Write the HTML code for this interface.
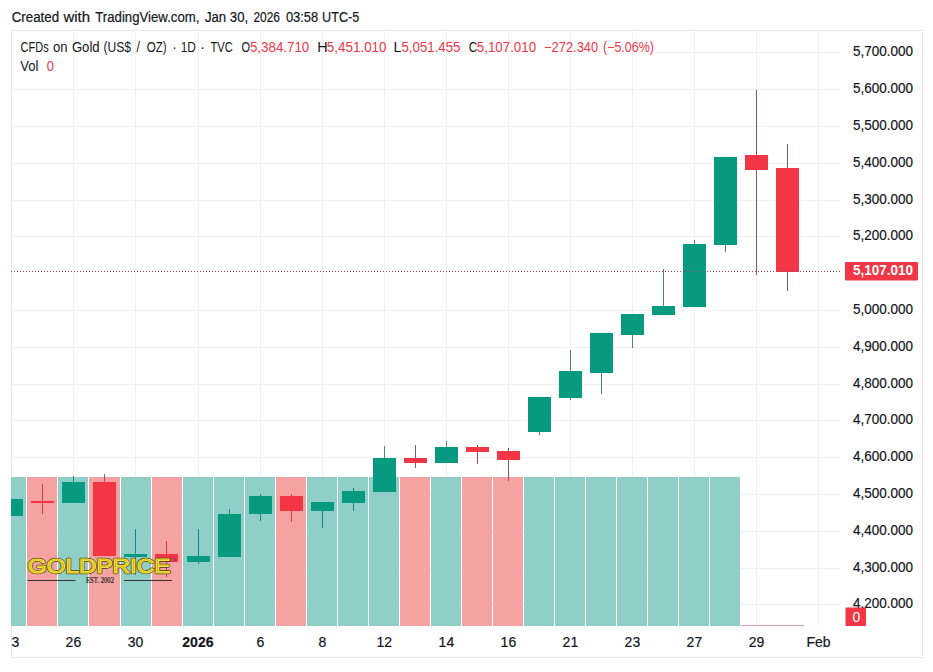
<!DOCTYPE html>
<html><head><meta charset="utf-8"><style>
html,body{margin:0;padding:0;background:#fff;width:933px;height:672px;overflow:hidden}
svg{display:block;font-family:"Liberation Sans",sans-serif}
.t text{stroke:#131722;stroke-width:0.2px}
.t text[fill="#F23645"]{stroke:none}
</style></head><body>
<svg width="933" height="672" viewBox="0 0 933 672">
<rect x="0" y="0" width="933" height="672" fill="#fff"/>
<g font-size="14"><text x="11.70" y="21.7" fill="#131722" textLength="47.42" lengthAdjust="spacingAndGlyphs" stroke="#131722" stroke-width="0.2">Created</text><text x="63.50" y="21.7" fill="#131722" textLength="26.46" lengthAdjust="spacingAndGlyphs" stroke="#131722" stroke-width="0.2">with</text><text x="95.30" y="21.7" fill="#131722" textLength="104.07" lengthAdjust="spacingAndGlyphs" stroke="#131722" stroke-width="0.2">TradingView.com,</text><text x="204.90" y="21.7" fill="#131722" textLength="21.14" lengthAdjust="spacingAndGlyphs" stroke="#131722" stroke-width="0.2">Jan</text><text x="229.80" y="21.7" fill="#131722" textLength="18.34" lengthAdjust="spacingAndGlyphs" stroke="#131722" stroke-width="0.2">30,</text><text x="253.40" y="21.7" fill="#131722" textLength="26.63" lengthAdjust="spacingAndGlyphs" stroke="#131722" stroke-width="0.2">2026</text><text x="285.90" y="21.7" fill="#131722" textLength="32.34" lengthAdjust="spacingAndGlyphs" stroke="#131722" stroke-width="0.2">03:58</text><text x="322.10" y="21.7" fill="#131722" textLength="37.11" lengthAdjust="spacingAndGlyphs" stroke="#131722" stroke-width="0.2">UTC-5</text></g>
<rect x="11.5" y="30.5" width="911" height="627" fill="none" stroke="#E6E7E9" stroke-width="1"/>
<defs><clipPath id="pc"><rect x="11" y="30" width="829" height="596"/></clipPath><clipPath id="tc"><rect x="11" y="626" width="829" height="31"/></clipPath></defs>
<g clip-path="url(#pc)"><rect x="656" y="52" width="184" height="1" fill="#F1F1F3"/><rect x="11" y="89" width="829" height="1" fill="#F1F1F3"/><rect x="11" y="126" width="829" height="1" fill="#F1F1F3"/><rect x="11" y="163" width="829" height="1" fill="#F1F1F3"/><rect x="11" y="200" width="829" height="1" fill="#F1F1F3"/><rect x="11" y="236" width="829" height="1" fill="#F1F1F3"/><rect x="11" y="310" width="829" height="1" fill="#F1F1F3"/><rect x="11" y="347" width="829" height="1" fill="#F1F1F3"/><rect x="11" y="384" width="829" height="1" fill="#F1F1F3"/><rect x="11" y="420" width="829" height="1" fill="#F1F1F3"/><rect x="11" y="457" width="829" height="1" fill="#F1F1F3"/><rect x="11" y="494" width="829" height="1" fill="#F1F1F3"/><rect x="11" y="531" width="829" height="1" fill="#F1F1F3"/><rect x="11" y="568" width="829" height="1" fill="#F1F1F3"/><rect x="11" y="604" width="829" height="1" fill="#F1F1F3"/><rect x="73" y="30" width="1" height="596" fill="#F1F1F3"/><rect x="135" y="30" width="1" height="596" fill="#F1F1F3"/><rect x="198" y="30" width="1" height="596" fill="#F1F1F3"/><rect x="260" y="30" width="1" height="596" fill="#F1F1F3"/><rect x="322" y="30" width="1" height="596" fill="#F1F1F3"/><rect x="384" y="30" width="1" height="596" fill="#F1F1F3"/><rect x="446" y="30" width="1" height="596" fill="#F1F1F3"/><rect x="508" y="30" width="1" height="596" fill="#F1F1F3"/><rect x="570" y="30" width="1" height="596" fill="#F1F1F3"/><rect x="632" y="30" width="1" height="596" fill="#F1F1F3"/><rect x="694" y="30" width="1" height="596" fill="#F1F1F3"/><rect x="756" y="30" width="1" height="596" fill="#F1F1F3"/><rect x="818" y="30" width="1" height="596" fill="#F1F1F3"/><rect x="0" y="477" width="26" height="149" fill="#8FCFC8"/><rect x="27" y="477" width="30" height="149" fill="#F5A3A2"/><rect x="58" y="477" width="30" height="149" fill="#8FCFC8"/><rect x="89" y="477" width="31" height="149" fill="#F5A3A2"/><rect x="121" y="477" width="30" height="149" fill="#8FCFC8"/><rect x="152" y="477" width="30" height="149" fill="#F5A3A2"/><rect x="183" y="477" width="30" height="149" fill="#8FCFC8"/><rect x="214" y="477" width="30" height="149" fill="#8FCFC8"/><rect x="245" y="477" width="30" height="149" fill="#8FCFC8"/><rect x="276" y="477" width="30" height="149" fill="#F5A3A2"/><rect x="307" y="477" width="30" height="149" fill="#8FCFC8"/><rect x="338" y="477" width="30" height="149" fill="#8FCFC8"/><rect x="369" y="477" width="30" height="149" fill="#8FCFC8"/><rect x="400" y="477" width="30" height="149" fill="#F5A3A2"/><rect x="431" y="477" width="30" height="149" fill="#8FCFC8"/><rect x="462" y="477" width="30" height="149" fill="#F5A3A2"/><rect x="493" y="477" width="30" height="149" fill="#F5A3A2"/><rect x="524" y="477" width="30" height="149" fill="#8FCFC8"/><rect x="555" y="477" width="30" height="149" fill="#8FCFC8"/><rect x="586" y="477" width="30" height="149" fill="#8FCFC8"/><rect x="617" y="477" width="30" height="149" fill="#8FCFC8"/><rect x="648" y="477" width="30" height="149" fill="#8FCFC8"/><rect x="679" y="477" width="30" height="149" fill="#8FCFC8"/><rect x="710" y="477" width="30" height="149" fill="#8FCFC8"/><rect x="741" y="625" width="32" height="1" fill="#DCA2A6"/><rect x="773" y="625" width="31" height="1" fill="#DCA2A6"/><rect x="11" y="499" width="1" height="17" fill="#13887B"/><rect x="0" y="499" width="23" height="17" fill="#089981"/><rect x="42" y="484" width="1" height="30" fill="#C8404F"/><rect x="31" y="501" width="23" height="2" fill="#F23645"/><rect x="73" y="476" width="1" height="1" fill="#4F8277"/><rect x="73" y="477" width="1" height="26" fill="#13887B"/><rect x="62" y="482" width="23" height="21" fill="#089981"/><rect x="104" y="474" width="1" height="3" fill="#95535F"/><rect x="104" y="477" width="1" height="79" fill="#C8404F"/><rect x="93" y="482" width="23" height="74" fill="#F23645"/><rect x="135" y="529" width="1" height="46" fill="#13887B"/><rect x="124" y="554" width="23" height="3" fill="#089981"/><rect x="166" y="541" width="1" height="36" fill="#C8404F"/><rect x="155" y="554" width="23" height="8" fill="#F23645"/><rect x="198" y="529" width="1" height="35" fill="#13887B"/><rect x="187" y="556" width="23" height="6" fill="#089981"/><rect x="229" y="509" width="1" height="48" fill="#13887B"/><rect x="218" y="514" width="23" height="43" fill="#089981"/><rect x="260" y="494" width="1" height="27" fill="#13887B"/><rect x="249" y="496" width="23" height="18" fill="#089981"/><rect x="291" y="494" width="1" height="28" fill="#C8404F"/><rect x="280" y="496" width="23" height="15" fill="#F23645"/><rect x="322" y="502" width="1" height="26" fill="#13887B"/><rect x="311" y="502" width="23" height="9" fill="#089981"/><rect x="353" y="488" width="1" height="23" fill="#13887B"/><rect x="342" y="491" width="23" height="12" fill="#089981"/><rect x="384" y="446" width="1" height="31" fill="#4F8277"/><rect x="384" y="477" width="1" height="15" fill="#13887B"/><rect x="373" y="458" width="23" height="34" fill="#089981"/><rect x="415" y="445" width="1" height="23" fill="#95535F"/><rect x="404" y="458" width="23" height="5" fill="#F23645"/><rect x="446" y="441" width="1" height="22" fill="#4F8277"/><rect x="435" y="447" width="23" height="16" fill="#089981"/><rect x="477" y="445" width="1" height="19" fill="#95535F"/><rect x="466" y="447" width="23" height="5" fill="#F23645"/><rect x="508" y="448" width="1" height="29" fill="#95535F"/><rect x="508" y="477" width="1" height="4" fill="#C8404F"/><rect x="497" y="451" width="23" height="9" fill="#F23645"/><rect x="539" y="397" width="1" height="38" fill="#4F8277"/><rect x="528" y="397" width="23" height="35" fill="#089981"/><rect x="570" y="350" width="1" height="50" fill="#4F8277"/><rect x="559" y="371" width="23" height="27" fill="#089981"/><rect x="601" y="333" width="1" height="61" fill="#4F8277"/><rect x="590" y="333" width="23" height="40" fill="#089981"/><rect x="632" y="314" width="1" height="34" fill="#4F8277"/><rect x="621" y="314" width="23" height="21" fill="#089981"/><rect x="663" y="269" width="1" height="46" fill="#4F8277"/><rect x="652" y="306" width="23" height="9" fill="#089981"/><rect x="694" y="240" width="1" height="67" fill="#4F8277"/><rect x="683" y="244" width="23" height="63" fill="#089981"/><rect x="725" y="157" width="1" height="95" fill="#4F8277"/><rect x="714" y="157" width="23" height="88" fill="#089981"/><rect x="756" y="90" width="1" height="185" fill="#95535F"/><rect x="745" y="155" width="23" height="15" fill="#F23645"/><rect x="787" y="144" width="1" height="147" fill="#95535F"/><rect x="776" y="168" width="23" height="104" fill="#F23645"/><line x1="11" y1="271.5" x2="840" y2="271.5" stroke="#8E4E5E" stroke-width="1" stroke-dasharray="1 2"/></g>
<g class="t" font-size="14" fill="#131722"><text x="853" y="55.7" textLength="60" lengthAdjust="spacingAndGlyphs">5,700.000</text><text x="853" y="92.7" textLength="60" lengthAdjust="spacingAndGlyphs">5,600.000</text><text x="853" y="129.7" textLength="60" lengthAdjust="spacingAndGlyphs">5,500.000</text><text x="853" y="166.7" textLength="60" lengthAdjust="spacingAndGlyphs">5,400.000</text><text x="853" y="203.7" textLength="60" lengthAdjust="spacingAndGlyphs">5,300.000</text><text x="853" y="239.7" textLength="60" lengthAdjust="spacingAndGlyphs">5,200.000</text><text x="853" y="313.7" textLength="60" lengthAdjust="spacingAndGlyphs">5,000.000</text><text x="853" y="350.7" textLength="60" lengthAdjust="spacingAndGlyphs">4,900.000</text><text x="853" y="387.7" textLength="60" lengthAdjust="spacingAndGlyphs">4,800.000</text><text x="853" y="423.7" textLength="60" lengthAdjust="spacingAndGlyphs">4,700.000</text><text x="853" y="460.7" textLength="60" lengthAdjust="spacingAndGlyphs">4,600.000</text><text x="853" y="497.7" textLength="60" lengthAdjust="spacingAndGlyphs">4,500.000</text><text x="853" y="534.7" textLength="60" lengthAdjust="spacingAndGlyphs">4,400.000</text><text x="853" y="571.7" textLength="60" lengthAdjust="spacingAndGlyphs">4,300.000</text><text x="853" y="607.7" textLength="60" lengthAdjust="spacingAndGlyphs">4,200.000</text></g>
<rect x="845" y="262" width="73" height="18.5" rx="1" fill="#F23645"/>
<text x="853" y="275.2" font-size="14" font-weight="bold" fill="#fff" textLength="60" lengthAdjust="spacingAndGlyphs">5,107.010</text>
<rect x="845.5" y="607.5" width="20.5" height="18.5" rx="1" fill="#F23645"/>
<text x="856.3" y="621.8" font-size="14" fill="#fff" text-anchor="middle">0</text>
<g class="t" font-size="14" fill="#131722" clip-path="url(#tc)"><text x="11.4" y="647" text-anchor="middle">23</text><text x="73.4" y="647" text-anchor="middle">26</text><text x="135.5" y="647" text-anchor="middle">30</text><text x="197.9" y="647" text-anchor="middle" font-weight="bold">2026</text><text x="260.3" y="647" text-anchor="middle">6</text><text x="322.3" y="647" text-anchor="middle">8</text><text x="384.3" y="647" text-anchor="middle">12</text><text x="446.4" y="647" text-anchor="middle">14</text><text x="508.4" y="647" text-anchor="middle">16</text><text x="570.4" y="647" text-anchor="middle">21</text><text x="632.4" y="647" text-anchor="middle">23</text><text x="694.4" y="647" text-anchor="middle">27</text><text x="756.5" y="647" text-anchor="middle">29</text><text x="818.5" y="647" text-anchor="middle">Feb</text></g>
<g font-size="14"><text x="20.60" y="51.8" fill="#131722" textLength="28.03" lengthAdjust="spacingAndGlyphs">CFDs</text><text x="53.10" y="51.8" fill="#131722" textLength="14.54" lengthAdjust="spacingAndGlyphs">on</text><text x="71.90" y="51.8" fill="#131722" textLength="27.74" lengthAdjust="spacingAndGlyphs">Gold</text><text x="103.44" y="51.8" fill="#131722" textLength="27.58" lengthAdjust="spacingAndGlyphs">(US$</text><text x="136.50" y="51.8" fill="#131722" textLength="3.40" lengthAdjust="spacingAndGlyphs">/</text><text x="146.80" y="51.8" fill="#131722" textLength="19.89" lengthAdjust="spacingAndGlyphs">OZ)</text><text x="172.15" y="51.8" fill="#131722" textLength="4.44" lengthAdjust="spacingAndGlyphs">·</text><text x="180.75" y="51.8" fill="#131722" textLength="15.17" lengthAdjust="spacingAndGlyphs">1D</text><text x="199.90" y="51.8" fill="#131722" textLength="5.14" lengthAdjust="spacingAndGlyphs">·</text><text x="210.50" y="51.8" fill="#131722" textLength="22.20" lengthAdjust="spacingAndGlyphs">TVC</text><text x="241.40" y="51.8" fill="#131722" textLength="8.51" lengthAdjust="spacingAndGlyphs">O</text><text x="249.95" y="51.8" fill="#F23645" textLength="59.34" lengthAdjust="spacingAndGlyphs">5,384.710</text><text x="317.28" y="51.8" fill="#131722" textLength="10.38" lengthAdjust="spacingAndGlyphs">H</text><text x="326.84" y="51.8" fill="#F23645" textLength="59.74" lengthAdjust="spacingAndGlyphs">5,451.010</text><text x="393.57" y="51.8" fill="#131722" textLength="8.02" lengthAdjust="spacingAndGlyphs">L</text><text x="401.45" y="51.8" fill="#F23645" textLength="59.03" lengthAdjust="spacingAndGlyphs">5,051.455</text><text x="468.70" y="51.8" fill="#131722" textLength="8.51" lengthAdjust="spacingAndGlyphs">C</text><text x="476.85" y="51.8" fill="#F23645" textLength="59.23" lengthAdjust="spacingAndGlyphs">5,107.010</text><text x="544.08" y="51.8" fill="#F23645" textLength="54.13" lengthAdjust="spacingAndGlyphs">−272.340</text><text x="603.01" y="51.8" fill="#F23645" textLength="50.87" lengthAdjust="spacingAndGlyphs">(−5.06%)</text><text x="20.30" y="70.6" fill="#131722" textLength="18.14" lengthAdjust="spacingAndGlyphs">Vol</text><text x="46.70" y="70.6" fill="#F23645" textLength="7.21" lengthAdjust="spacingAndGlyphs">0</text></g>

<g font-family="Liberation Sans" >
 <defs><linearGradient id="gg" x1="0" y1="0" x2="0" y2="1"><stop offset="0" stop-color="#FFF46E"/><stop offset="0.5" stop-color="#EAD024"/><stop offset="1" stop-color="#C9A812"/></linearGradient></defs>
 <g transform="translate(27.8 573) scale(1 0.92)"><text x="0" y="0" font-size="21" textLength="142.6" lengthAdjust="spacingAndGlyphs" fill="none" stroke="#4E4008" stroke-width="2.5" stroke-linejoin="round">GOLDPRICE</text>
 <text x="0" y="0" font-size="21" textLength="142.6" lengthAdjust="spacingAndGlyphs" fill="#BFA014" stroke="#F2E040" stroke-width="1.2" stroke-linejoin="round">GOLDPRICE</text></g>
 <text x="172" y="562" font-size="5" fill="#555">®</text>
 <rect x="27.5" y="580" width="48" height="1" fill="#333"/>
 <rect x="124" y="580" width="48" height="1" fill="#333"/>
 <text x="100" y="582.5" font-family="Liberation Serif" font-size="7.5" text-anchor="middle" fill="#1A2424" stroke="#1A2424" stroke-width="0.2" textLength="28" lengthAdjust="spacingAndGlyphs">EST. 2002</text>
</g>
</svg>
</body></html>
